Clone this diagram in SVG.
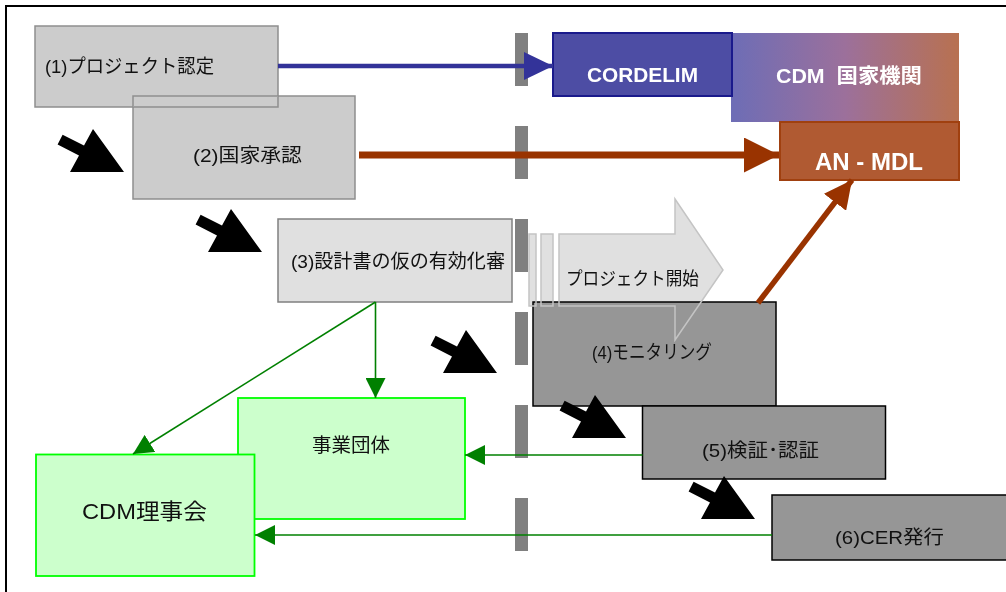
<svg xmlns="http://www.w3.org/2000/svg" width="1006" height="592" viewBox="0 0 1006 592">
<style>
text{font-family:"Liberation Sans","Noto Sans CJK JP",sans-serif;fill:#111;}
.lbl{font-size:19px;}
.wt{fill:#fff;font-weight:bold;}
.gbox{fill:#ccc;stroke:#8e8e8e;stroke-width:1.5;}
.dbox{fill:#969696;stroke:#000;stroke-width:1.5;}
.grn{fill:#ccffcc;stroke:#00ff00;stroke-width:1.8;}
.gl{stroke:#008000;stroke-width:1.6;fill:none;}
</style>
<defs>
<linearGradient id="grad" x1="0" y1="0" x2="1" y2="0">
<stop offset="0" stop-color="#6d6db6"/>
<stop offset="0.5" stop-color="#9c709b"/>
<stop offset="1" stop-color="#b87150"/>
</linearGradient>
<marker id="mg" markerUnits="userSpaceOnUse" viewBox="0 0 20 20" refX="20" refY="10" markerWidth="20" markerHeight="20" orient="auto"><path d="M0,0 L20,10 L0,20 Z" fill="#008000"/></marker>
<marker id="mb" markerUnits="userSpaceOnUse" viewBox="0 0 29 28" refX="29" refY="14" markerWidth="29" markerHeight="28" orient="auto"><path d="M0,0 L29,14 L0,28 Z" fill="#333399"/></marker>
<marker id="mr" markerUnits="userSpaceOnUse" viewBox="0 0 35 35" refX="35" refY="17.5" markerWidth="35" markerHeight="35" orient="auto"><path d="M0,0 L35,17.5 L0,35 Z" fill="#993300"/></marker>
<marker id="mr2" markerUnits="userSpaceOnUse" viewBox="0 0 28 28" refX="28" refY="14" markerWidth="28" markerHeight="28" orient="auto"><path d="M0,0 L28,14 L0,28 Z" fill="#993300"/></marker>
<path id="fat" d="M0,0 L-54,0 L-45,-16.6 L-66.4,-27.4 L-61.4,-37.2 L-40,-26.4 L-31,-43 Z" fill="#000"/>
</defs>

<rect x="6" y="6" width="1010" height="600" fill="none" stroke="#000" stroke-width="2"/>
<line x1="521.5" y1="33" x2="521.5" y2="551" stroke="#808080" stroke-width="13" stroke-dasharray="53 40"/>

<g id="n1"><rect class="gbox" x="35" y="26" width="243" height="81"/><text class="lbl" x="45" y="73" textLength="169" lengthAdjust="spacingAndGlyphs">(1)プロジェクト認定</text></g>
<g id="n2"><rect class="gbox" x="133" y="96" width="222" height="103" style="mix-blend-mode:darken"/><text class="lbl" x="193" y="162" textLength="109" lengthAdjust="spacingAndGlyphs">(2)国家承認</text></g>
<g id="n3"><rect x="278" y="219" width="234" height="83" fill="#e0e0e0" stroke="#808080" stroke-width="1.5"/><text class="lbl" x="291" y="268" textLength="214" lengthAdjust="spacingAndGlyphs">(3)設計書の仮の有効化審</text></g>

<g id="cdmna"><rect x="731" y="33" width="228" height="89" fill="url(#grad)"/><text class="wt" x="776" y="83" font-size="20" textLength="146" lengthAdjust="spacingAndGlyphs" xml:space="preserve">CDM  国家機関</text></g>
<g id="cordelim"><rect x="553" y="33" width="179" height="63" fill="#4d4da4" stroke="#1a1a8c" stroke-width="2"/><text class="wt" x="587" y="82" font-size="20" textLength="111" lengthAdjust="spacingAndGlyphs">CORDELIM</text></g>
<g id="anmdl"><rect x="780" y="122" width="179" height="58" fill="#b05a32" stroke="#a0400f" stroke-width="2"/><text class="wt" x="815" y="170" font-size="23" textLength="108" lengthAdjust="spacingAndGlyphs">AN - MDL</text></g>

<g id="jigyo"><rect class="grn" x="238" y="398" width="227" height="121"/><text class="lbl" x="312" y="452" textLength="78" lengthAdjust="spacingAndGlyphs">事業団体</text></g>
<g id="board"><rect class="grn" x="36" y="454.5" width="218.5" height="121.5"/><text x="82" y="519" font-size="22" textLength="125" lengthAdjust="spacingAndGlyphs">CDM理事会</text></g>

<g id="n4"><rect class="dbox" x="533" y="302" width="243" height="104"/><text class="lbl" x="592" y="359" textLength="120" lengthAdjust="spacingAndGlyphs">(4)モニタリング</text></g>
<g id="n5"><rect class="dbox" x="642.5" y="406" width="243" height="73"/><text class="lbl" x="702" y="457" textLength="117" lengthAdjust="spacingAndGlyphs">(5)検証･認証</text></g>
<g id="n6"><rect class="dbox" x="772" y="495" width="245" height="65"/><text class="lbl" x="835" y="544" textLength="109" lengthAdjust="spacingAndGlyphs">(6)CER発行</text></g>

<g id="start">
<g style="mix-blend-mode:darken" fill="#e0e0e0"><rect x="529" y="234" width="7" height="72"/><rect x="541" y="234" width="12" height="72"/><path d="M559,234 H675 V199 L723,270 L675,340 V306 H559 Z"/></g>
<g fill="none" stroke="#c4c4c4" stroke-width="1.5"><rect x="529" y="234" width="7" height="72"/><rect x="541" y="234" width="12" height="72"/><path d="M559,234 H675 V199 L723,270 L675,340 V306 H559 Z"/></g>
<text x="566" y="285" font-size="18" textLength="133" lengthAdjust="spacingAndGlyphs">プロジェクト開始</text>
</g>

<g id="connectors">
<line x1="278" y1="66" x2="553" y2="66" stroke="#333399" stroke-width="4.5" marker-end="url(#mb)"/>
<line x1="359" y1="155" x2="779" y2="155" stroke="#993300" stroke-width="7" marker-end="url(#mr)"/>
<line x1="758" y1="303" x2="852" y2="180" stroke="#993300" stroke-width="5.5" marker-end="url(#mr2)"/>
<path class="gl" d="M375.5,302 V398" marker-end="url(#mg)"/>
<path class="gl" d="M375.5,302 L133,454" marker-end="url(#mg)"/>
<path class="gl" d="M642.5,455 H465" marker-end="url(#mg)"/>
<path class="gl" d="M772,535 H255" marker-end="url(#mg)"/>
</g>

<g id="steps">
<use href="#fat" x="124" y="172"/>
<use href="#fat" x="262" y="252"/>
<use href="#fat" x="497" y="373"/>
<use href="#fat" x="626" y="438"/>
<use href="#fat" x="755" y="519"/>
</g>
</svg>
